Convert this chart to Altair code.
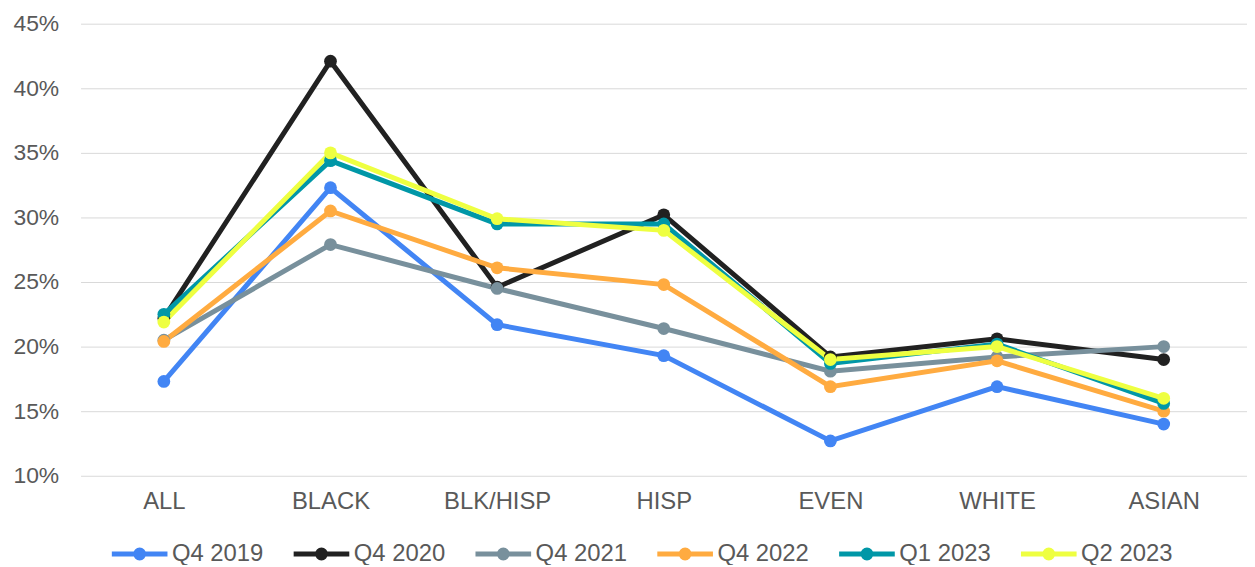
import altair as alt
import pandas as pd

categories = ["ALL", "BLACK", "BLK/HISP", "HISP", "EVEN", "WHITE", "ASIAN"]
series_names = ["Q4 2019", "Q4 2020", "Q4 2021", "Q4 2022", "Q1 2023", "Q2 2023"]
q4_2019 = [17.3, 32.3, 21.7, 19.3, 12.7, 16.9, 14.0]
q4_2020 = [22.2, 42.1, 24.6, 30.2, 19.2, 20.6, 19.0]
q4_2021 = [20.5, 27.9, 24.5, 21.4, 18.1, 19.2, 20.0]
q4_2022 = [20.4, 30.5, 26.1, 24.8, 16.9, 18.9, 15.0]
q1_2023 = [22.5, 34.4, 29.5, 29.5, 18.7, 20.2, 15.6]
q2_2023 = [21.9, 35.0, 29.9, 29.0, 19.0, 20.0, 16.0]
y_ticks = [10, 15, 20, 25, 30, 35, 40, 45]
colors = ["#4285F4", "#212121", "#78909C", "#FFAB40", "#0097A7", "#EEFF41"]

rows = []
for name, vals in zip(series_names, [q4_2019, q4_2020, q4_2021, q4_2022, q1_2023, q2_2023]):
    for c, v in zip(categories, vals):
        rows.append({"cat": c, "series": name, "value": v})
df = pd.DataFrame(rows)

font = "Liberation Sans"
legend_path = ("M-1,0L1,0 "
               "M-0.143,0A0.143,0.143 0 1,1 0.143,0A0.143,0.143 0 1,1 -0.143,0Z")

x = alt.X("cat:N", sort=categories, title=None,
          scale=alt.Scale(type="point", padding=0.5),
          axis=alt.Axis(labelAngle=0, labelFont=font, labelFontSize=24,
                        labelColor="#595959", labelPadding=14, ticks=False,
                        domain=False, grid=False))
y = alt.Y("value:Q", title=None,
          scale=alt.Scale(domain=[10, 45], nice=False, zero=False),
          axis=alt.Axis(values=y_ticks, labelExpr="datum.value + '%'",
                        labelFont=font, labelFontSize=23, labelColor="#595959",
                        labelPadding=22, ticks=False, domain=False,
                        gridColor="#d9d9d9", gridWidth=1))
scale = alt.Scale(domain=series_names, range=colors)
legend = alt.Legend(
    title=None, orient="none", direction="horizontal",
    legendX=29, legendY=503,
    symbolType=legend_path, symbolSize=3136,
    symbolStrokeWidth=5, symbolOpacity=1,
    labelFont=font, labelFontSize=24, labelColor="#595959",
    labelOffset=2, columnPadding=19)
color = alt.Color("series:N", sort=series_names, scale=scale, legend=legend)

lines = alt.Chart(df).mark_line(strokeWidth=5).encode(x=x, y=y, color=color)
points = alt.Chart(df).mark_circle(size=165, opacity=1).encode(x=x, y=y, color=color)

chart = alt.layer(lines, points).properties(
    width=1174, height=455,
    background="white",
    autosize=alt.AutoSizeParams(type="none"),
    padding={"left": 73, "top": 14, "right": 0, "bottom": 88},
).configure_view(stroke=None)

chart.save("out.html", embed_options={"renderer": "svg", "actions": False})
